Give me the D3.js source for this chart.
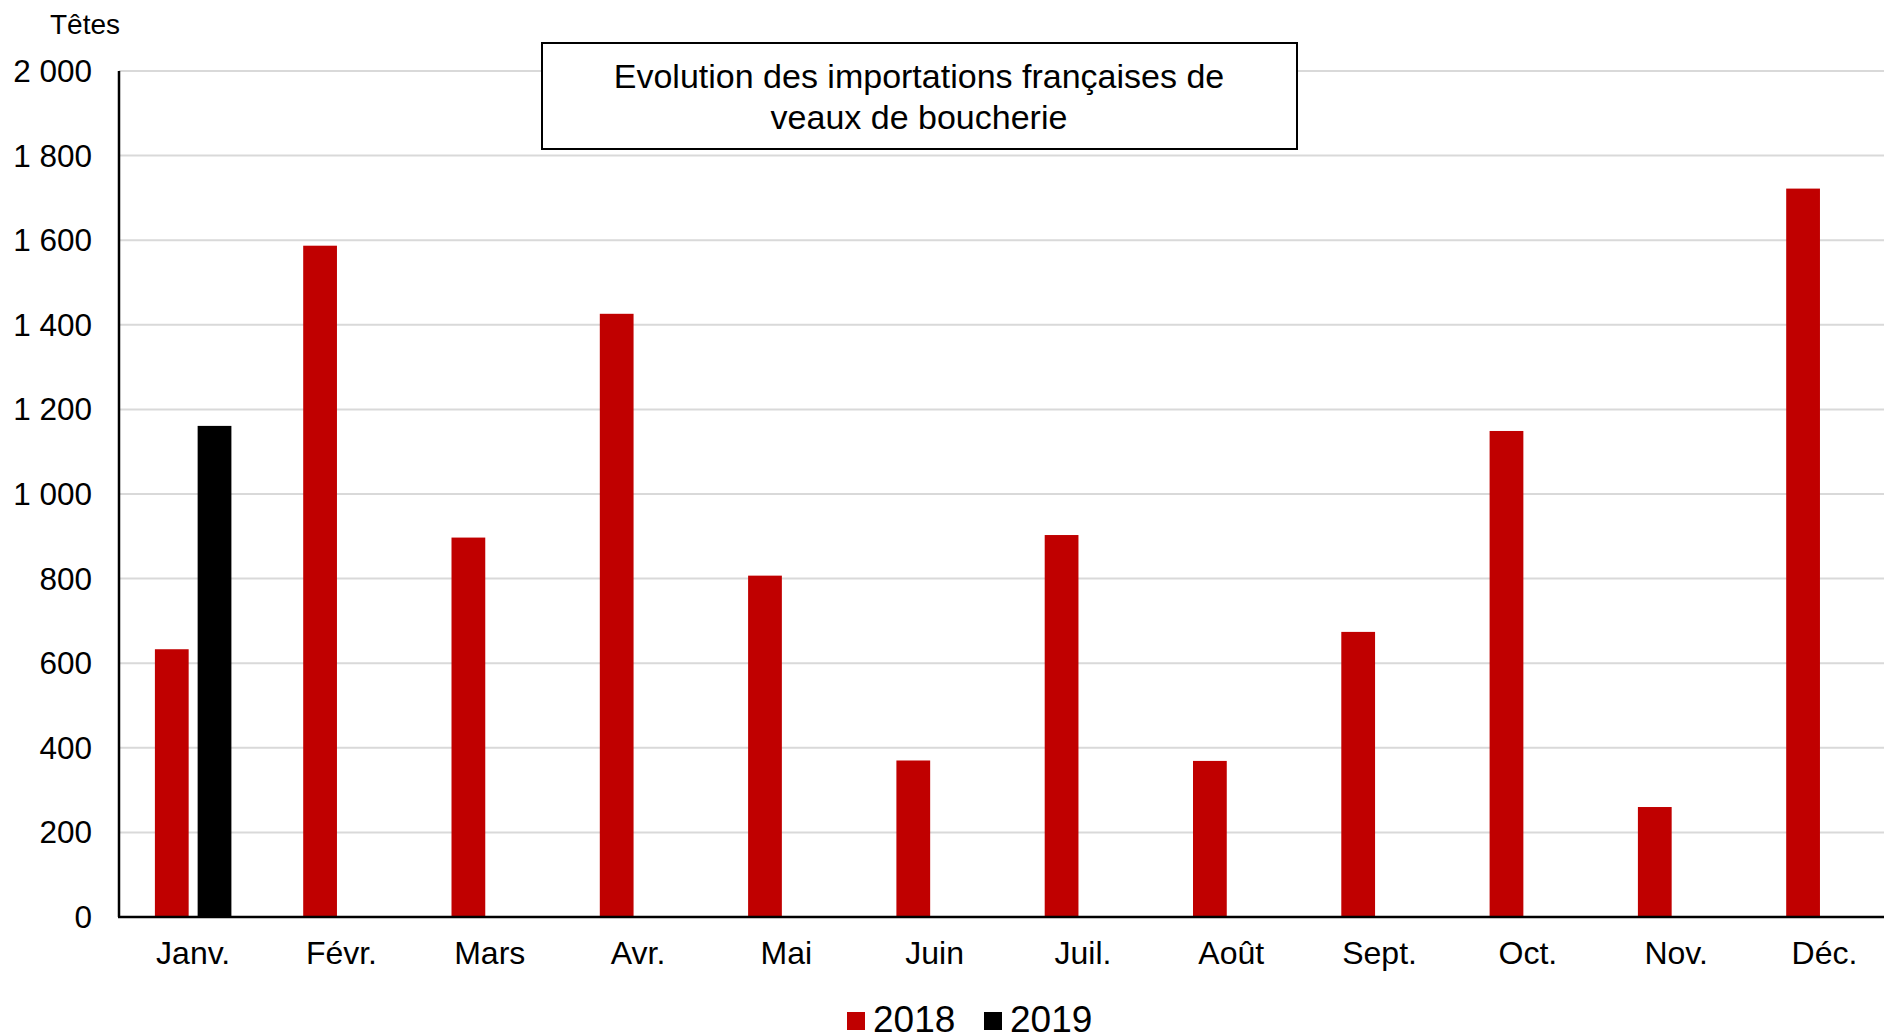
<!DOCTYPE html>
<html>
<head>
<meta charset="utf-8">
<script src="https://cdn.jsdelivr.net/npm/d3@7"></script>
<style>
  body { margin: 0; background: #fff; }
  text { font-family: "Liberation Sans", Arial, sans-serif; fill: #000; }
</style>
</head>
<body>
<svg id="chart"></svg>
<script>
const months = ['Janv.', 'Févr.', 'Mars', 'Avr.', 'Mai', 'Juin', 'Juil.', 'Août', 'Sept.', 'Oct.', 'Nov.', 'Déc.'];
const years = ['2018', '2019'];
const values2018 = [633, 1587, 897, 1426, 807, 370, 903, 369, 674, 1149, 260, 1722];
const values2019 = [1161]; // only January known
const yTicks = [0, 200, 400, 600, 800, 1000, 1200, 1400, 1600, 1800, 2000];
const colors = { '2018': '#c00000', '2019': '#000000' };

document.addEventListener('DOMContentLoaded', function () {
    const W = 1884, H = 1035;
    const margin = { top: 71, left: 119, bottom: 118 };
    const step = 148.3;

    const svg = d3.select('#chart').attr('width', W).attr('height', H);

    const x = d3.scaleBand()
        .domain(months)
        .range([margin.left, margin.left + step * months.length])
        .padding(0);

    // the two yearly bars sit in the middle of each month band
    const groupW = 76.5;
    const xSub = d3.scaleBand()
        .domain(years)
        .range([(x.bandwidth() - groupW) / 2, (x.bandwidth() + groupW) / 2])
        .paddingInner(0.21)
        .paddingOuter(0);

    const y = d3.scaleLinear()
        .domain([0, 2000])
        .range([H - margin.bottom, margin.top]);

    // gridlines
    svg.append('g')
        .selectAll('line')
        .data(yTicks.filter(d => d > 0))
        .enter()
        .append('line')
        .attr('x1', margin.left)
        .attr('x2', W)
        .attr('y1', d => y(d))
        .attr('y2', d => y(d))
        .attr('stroke', '#d9d9d9')
        .attr('stroke-width', 2);

    // y tick labels
    const fmt = d => d3.format(',')(d).replace(/,/g, ' ');
    svg.append('g')
        .selectAll('text')
        .data(yTicks)
        .enter()
        .append('text')
        .attr('x', 92)
        .attr('y', d => y(d))
        .attr('dy', '0.35em')
        .attr('text-anchor', 'end')
        .style('font-size', '31.5px')
        .text(fmt);

    svg.append('text')
        .attr('x', 50)
        .attr('y', 24)
        .attr('dy', '0.35em')
        .style('font-size', '28px')
        .text('Têtes');

    // bars
    const bars = [];
    values2018.forEach((v, i) => bars.push({ month: months[i], year: '2018', value: v }));
    values2019.forEach((v, i) => bars.push({ month: months[i], year: '2019', value: v }));

    svg.append('g')
        .selectAll('rect')
        .data(bars)
        .enter()
        .append('rect')
        .attr('x', d => x(d.month) + xSub(d.year))
        .attr('width', xSub.bandwidth())
        .attr('y', d => y(d.value))
        .attr('height', d => y(0) - y(d.value))
        .attr('fill', d => colors[d.year]);

    // axes lines
    svg.append('line')
        .attr('x1', margin.left).attr('x2', margin.left)
        .attr('y1', y(2000)).attr('y2', y(0))
        .attr('stroke', '#000').attr('stroke-width', 2.5);
    svg.append('line')
        .attr('x1', margin.left - 1).attr('x2', W)
        .attr('y1', y(0)).attr('y2', y(0))
        .attr('stroke', '#000').attr('stroke-width', 2.5);

    // month labels
    svg.append('g')
        .selectAll('text')
        .data(months)
        .enter()
        .append('text')
        .attr('x', d => x(d) + x.bandwidth() / 2)
        .attr('y', 953)
        .attr('dy', '0.35em')
        .attr('text-anchor', 'middle')
        .style('font-size', '32px')
        .text(d => d);

    // title box
    svg.append('rect')
        .attr('x', 542).attr('y', 43)
        .attr('width', 755).attr('height', 106)
        .attr('fill', '#fff').attr('stroke', '#000').attr('stroke-width', 2);
    svg.append('text')
        .attr('x', 919).attr('y', 76).attr('dy', '0.35em')
        .attr('text-anchor', 'middle').style('font-size', '34px')
        .text('Evolution des importations françaises de');
    svg.append('text')
        .attr('x', 919).attr('y', 117).attr('dy', '0.35em')
        .attr('text-anchor', 'middle').style('font-size', '34px')
        .text('veaux de boucherie');

    // legend
    const legendX = [847, 984];
    years.forEach((yr, i) => {
        svg.append('rect')
            .attr('x', legendX[i]).attr('y', 1012)
            .attr('width', 18).attr('height', 18)
            .attr('fill', colors[yr]);
        svg.append('text')
            .attr('x', legendX[i] + 26).attr('y', 1019)
            .attr('dy', '0.35em')
            .style('font-size', '37px')
            .text(yr);
    });
});
</script>
</body>
</html>
